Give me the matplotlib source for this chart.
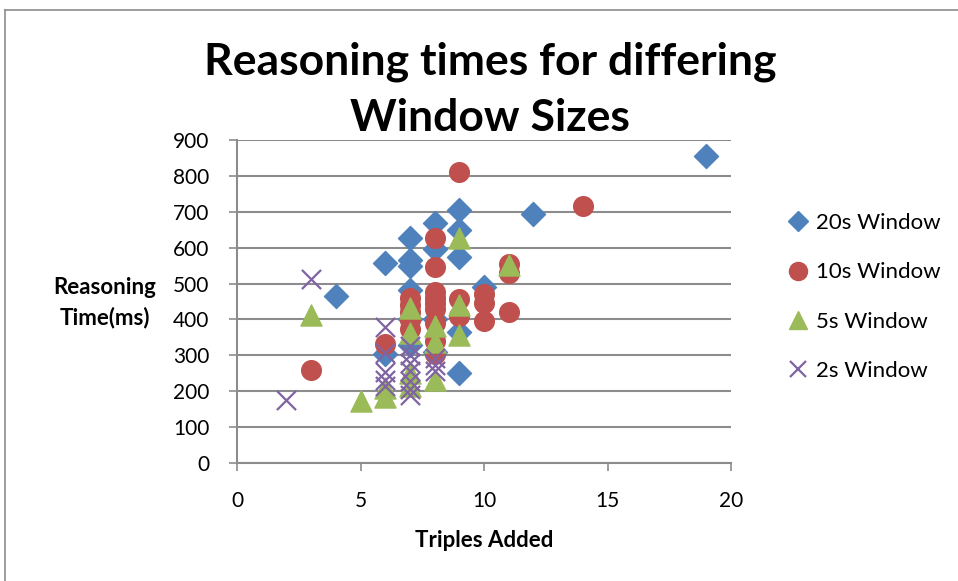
import matplotlib.pyplot as plt
from matplotlib.lines import Line2D

plt.rcParams['font.family'] = ['Lato', 'DejaVu Sans']

# Data (triples added, reasoning time in ms)
x20 = [4, 6, 6, 7, 7, 7, 7, 7, 7, 8, 8, 8, 8, 9, 9, 9, 9, 9, 10, 12, 19]
y20 = [465, 557, 305, 627, 566, 549, 482, 400, 330, 670, 595, 400, 310, 705, 649, 574, 365, 250, 490, 695, 855]

x10 = [3, 6, 7, 7, 7, 7, 7, 8, 8, 8, 8, 8, 8, 8, 8, 8, 9, 9, 9, 10, 10, 10, 11, 11, 11, 14]
y10 = [260, 332, 459, 440, 420, 398, 372, 628, 546, 476, 459, 446, 430, 390, 340, 304,
       811, 456, 409, 470, 445, 395, 555, 530, 420, 716]

x5 = [3, 5, 6, 6, 7, 7, 7, 7, 8, 8, 8, 9, 9, 9, 11]
y5 = [413, 173, 185, 208, 432, 362, 250, 215, 382, 336, 231, 627, 440, 358, 551]

x2 = [2, 3, 6, 6, 6, 6, 6, 7, 7, 7, 7, 7, 7, 7, 8, 8, 8]
y2 = [175, 512, 380, 306, 254, 230, 215, 325, 301, 280, 255, 228, 205, 190, 293, 272, 255]

labels = ['20s Window', '10s Window', '5s Window', '2s Window']
colors = ['#4F81BD', '#C0504D', '#9BBB59', '#8064A2']

fig = plt.figure(figsize=(9.58, 5.81), dpi=100)
ax = fig.add_axes([237 / 958, 1 - 463 / 581, 494 / 958, 323 / 581])

ax.scatter(x20, y20, marker='D', s=150, color=colors[0], zorder=3)
ax.scatter(x10, y10, marker='o', s=200, color=colors[1], zorder=4)
ax.scatter(x5, y5, marker='^', s=230, color=colors[2], zorder=5)
ax.scatter(x2, y2, marker='x', s=190, color=colors[3], linewidths=1.6, zorder=6)

ax.set_xlim(0, 20)
ax.set_ylim(0, 900)
ax.set_xticks(range(0, 21, 5))
ax.set_yticks(range(0, 901, 100))
ax.grid(axis='y', color='#8c8c8c', linewidth=1.5)
ax.set_axisbelow(True)
for s in ['top', 'right']:
    ax.spines[s].set_visible(False)
for s in ['left', 'bottom']:
    ax.spines[s].set_color('#8c8c8c')
    ax.spines[s].set_linewidth(1.5)
ax.tick_params(direction='out', length=6, width=1.2, color='#8c8c8c', labelsize=15)
ax.tick_params(axis='y', pad=14)
ax.tick_params(axis='x', pad=14)

ax.set_xlabel('Triples Added', fontsize=16, fontweight='bold', labelpad=14)
fig.text(105 / 958, 1 - 303 / 581, 'Reasoning\nTime(ms)', fontsize=16, fontweight='bold',
         ha='center', va='center', linespacing=1.5)

fig.text(490 / 958, 1 - 62 / 581, 'Reasoning times for differing', fontsize=32,
         fontweight='bold', ha='center', va='center')
fig.text(490 / 958, 1 - 118 / 581, 'Window Sizes', fontsize=32,
         fontweight='bold', ha='center', va='center')

handles = [
    Line2D([], [], marker='D', linestyle='none', color=colors[0], markersize=10),
    Line2D([], [], marker='o', linestyle='none', color=colors[1], markersize=13),
    Line2D([], [], marker='^', linestyle='none', color=colors[2], markersize=13),
    Line2D([], [], marker='x', linestyle='none', color=colors[3], markersize=12, markeredgewidth=1.6),
]
fig.legend(handles, labels, loc='center left', bbox_to_anchor=(778 / 958, 1 - 297 / 581),
           frameon=False, fontsize=16, labelspacing=1.32, handlelength=1.0,
           handletextpad=0.3, borderaxespad=0)

# outer chart frame (top and left edges visible)
fig.add_artist(Line2D([5 / 958, 5 / 958], [0, 1 - 10 / 581], color='#8c8c8c', linewidth=1.2))
fig.add_artist(Line2D([5 / 958, 1], [1 - 10 / 581, 1 - 10 / 581], color='#8c8c8c', linewidth=1.2))

fig.savefig('out.png', dpi=100)
